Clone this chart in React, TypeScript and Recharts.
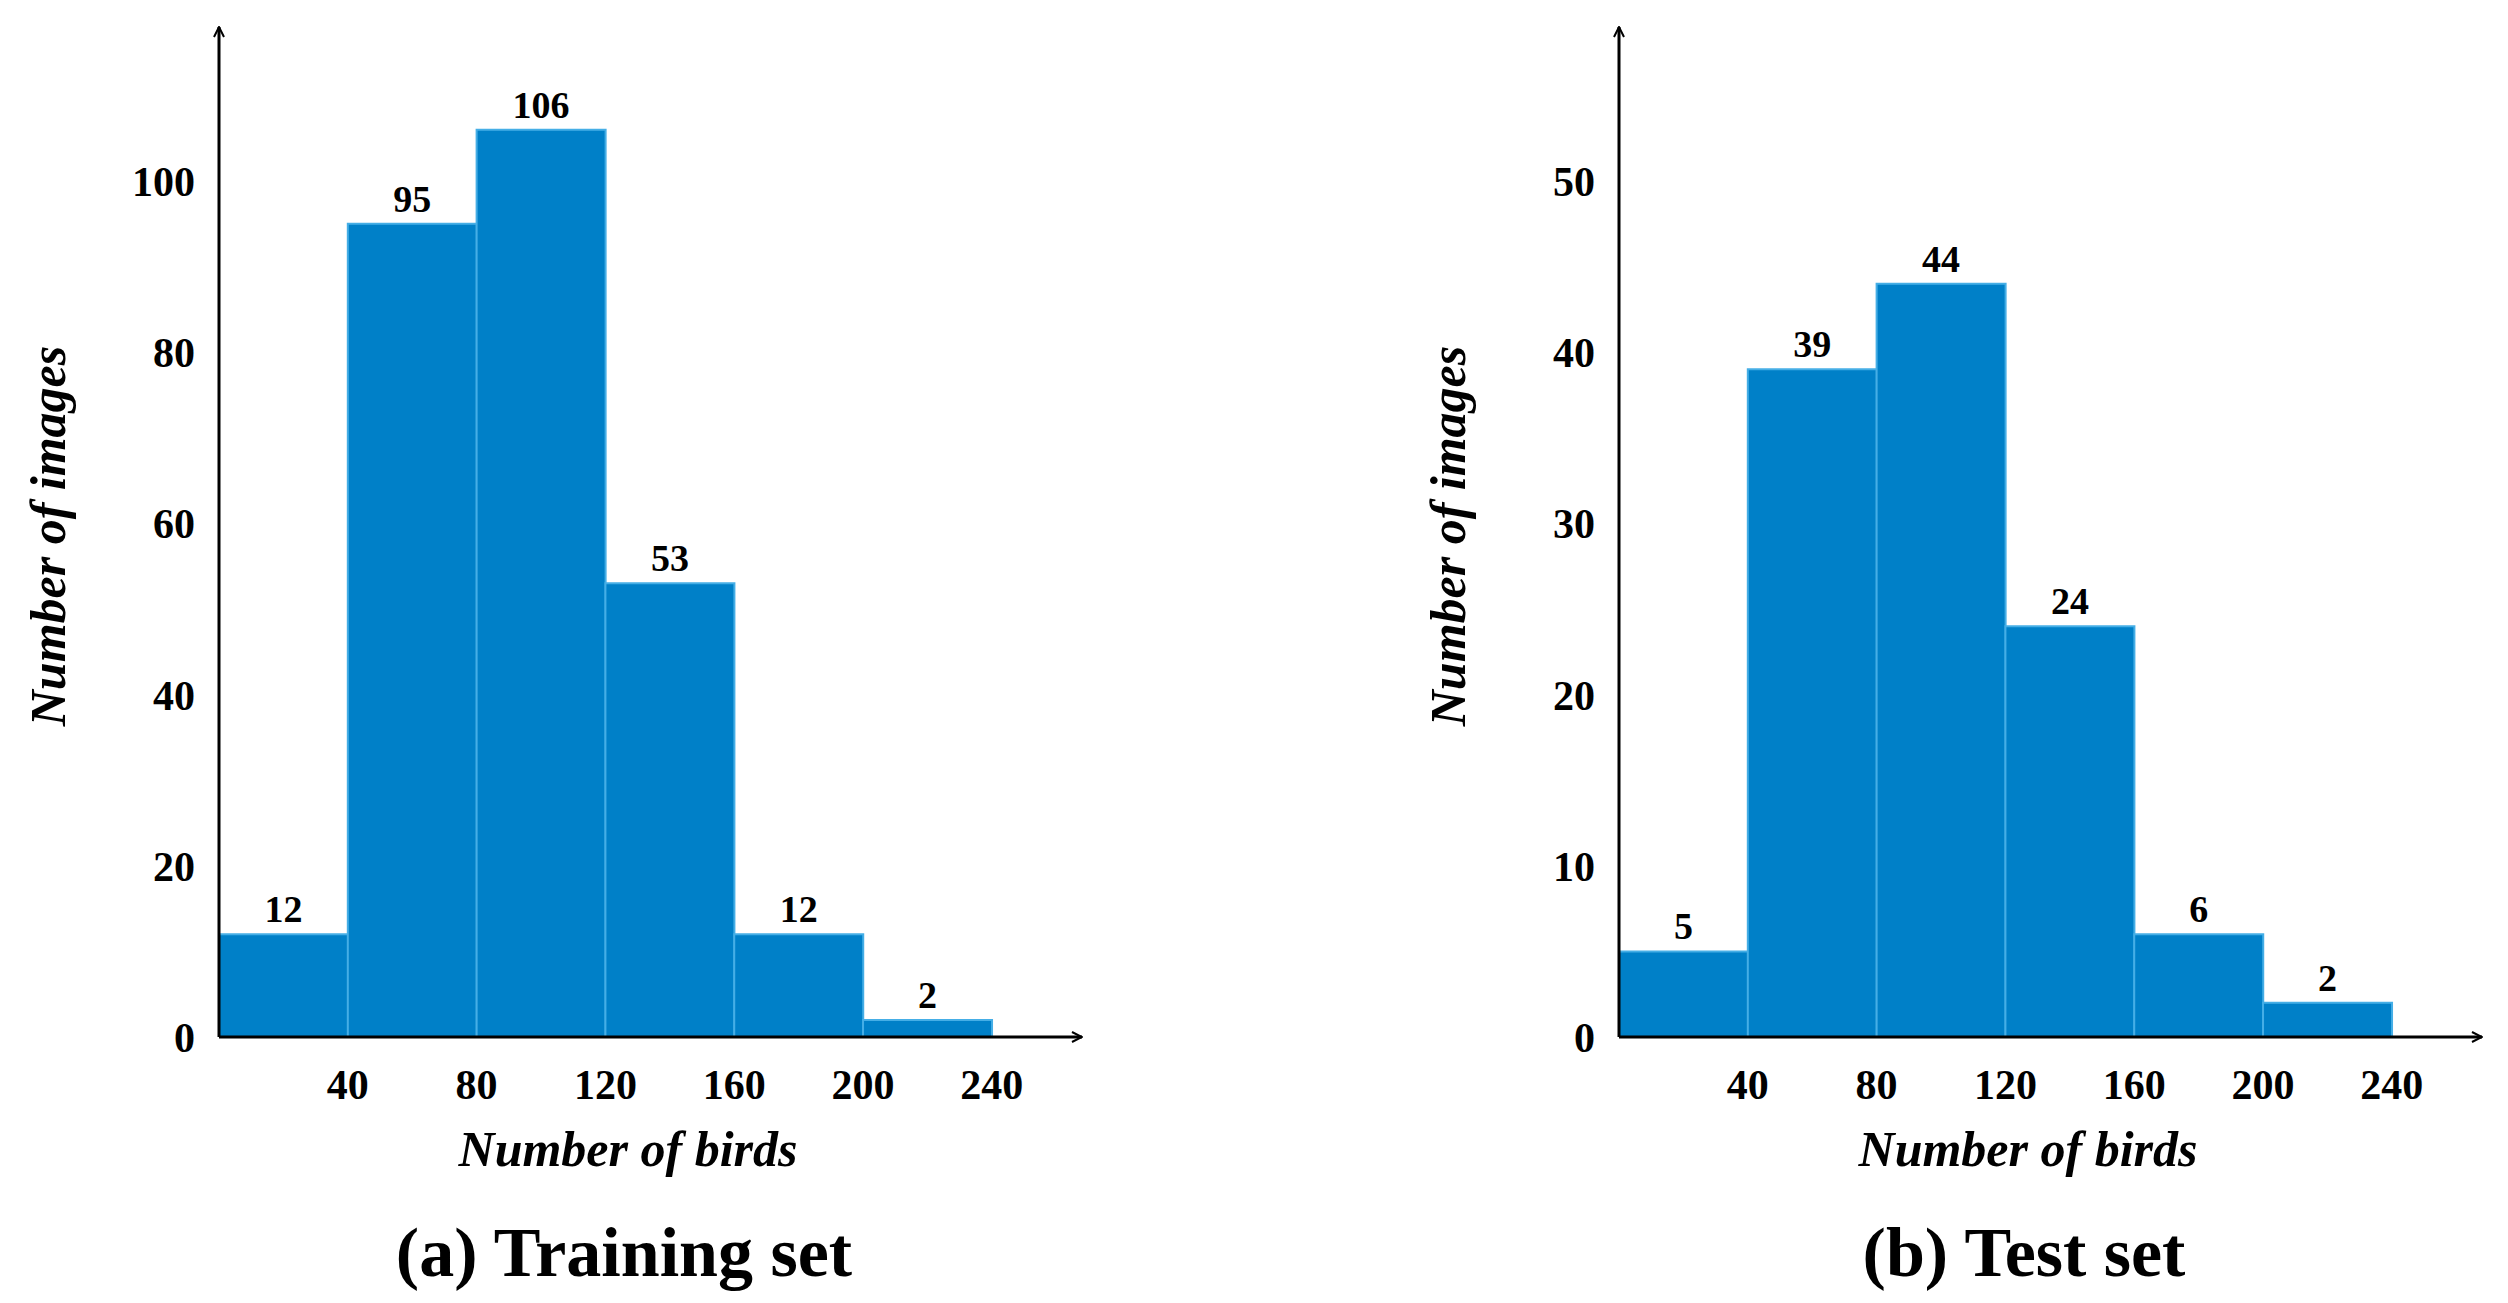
import { BarChart, Bar, XAxis, YAxis, LabelList } from "recharts"

const BIN_START = [0, 40, 80, 120, 160, 200]
const BIN_WIDTH = 40
const X_TICKS = [40, 80, 120, 160, 200, 240]
const TRAIN_COUNTS = [12, 95, 106, 53, 12, 2]
const TEST_COUNTS = [5, 39, 44, 24, 6, 2]
const TRAIN_Y_TICKS = [0, 20, 40, 60, 80, 100]
const TEST_Y_TICKS = [0, 10, 20, 30, 40, 50]

const FONT = "'Liberation Serif', 'Times New Roman', serif"
const BAR_FILL = "#0080c8"
const BAR_EDGE = "#45aee6"

// layout of one panel (local coords)
const W = 1254
const H = 1303
const AXIS_X = 219
const PLOT_TOP = 27
const PLOT_BOTTOM = 1037
const PLOT_RIGHT = 1082
const X_MAX = 268

interface PanelProps {
  counts: number[]
  yTicks: number[]
  yMax: number
  title: string
  left: number
}

function Panel({ counts, yTicks, yMax, title, left }: PanelProps) {
  const data = BIN_START.map((start, i) => ({ x: start + BIN_WIDTH / 2, count: counts[i] }))
  const xAxisH = 140
  return (
    <div style={{ position: "absolute", left, top: 0, width: W, height: H, fontFamily: FONT }}>
      <BarChart
        width={W}
        height={H}
        data={data}
        barCategoryGap={0}
        margin={{ top: PLOT_TOP, right: W - PLOT_RIGHT, bottom: H - PLOT_BOTTOM - xAxisH, left: 0 }}
      >
        <XAxis
          dataKey="x"
          type="number"
          domain={[0, X_MAX]}
          ticks={X_TICKS}
          interval={0}
          allowDataOverflow
          height={xAxisH}
          tickLine={false}
          tickSize={0}
          tickMargin={32}
          axisLine={{ stroke: "#000", strokeWidth: 3, markerEnd: "url(#arrowHead)" } as any}
          tick={{ fill: "#000", fontSize: 42, fontWeight: "bold", fontFamily: FONT }}
        />
        <YAxis
          type="number"
          domain={[0, yMax]}
          ticks={yTicks}
          interval={0}
          allowDataOverflow
          width={AXIS_X}
          tickLine={false}
          tickSize={0}
          tickMargin={24}
          axisLine={{ stroke: "#000", strokeWidth: 3, markerStart: "url(#arrowHeadRev)" } as any}
          tick={{ fill: "#000", fontSize: 42, fontWeight: "bold", fontFamily: FONT }}
        />
        <Bar dataKey="count" fill={BAR_FILL} stroke={BAR_EDGE} strokeWidth={2} isAnimationActive={false}>
          <LabelList
            dataKey="count"
            position="top"
            offset={12}
            style={{ fill: "#000", fontSize: 38, fontWeight: "bold", fontFamily: FONT }}
          />
        </Bar>
      </BarChart>
      <div
        style={{
          position: "absolute", left: 48, top: 536, transform: "translate(-50%, -50%) rotate(-90deg)",
          whiteSpace: "nowrap", fontSize: 50, fontWeight: "bold", fontStyle: "italic", lineHeight: 1,
        }}
      >
        Number of images
      </div>
      <div
        style={{
          position: "absolute", left: 628, top: 1149, transform: "translate(-50%, -50%)",
          whiteSpace: "nowrap", fontSize: 50, fontWeight: "bold", fontStyle: "italic", lineHeight: 1,
        }}
      >
        Number of birds
      </div>
      <div
        style={{
          position: "absolute", left: 624, top: 1253, transform: "translate(-50%, -50%)",
          whiteSpace: "nowrap", fontSize: 70, fontWeight: "bold", lineHeight: 1,
        }}
      >
        {title}
      </div>
    </div>
  )
}

export default function App() {
  return (
    <div style={{ position: "absolute", left: 0, top: 0, width: 2508, height: 1303, background: "#fff" }}>
      <svg width={0} height={0} style={{ position: "absolute" }}>
        <defs>
          <marker id="arrowHead" viewBox="0 0 12 12" refX="11" refY="6" markerWidth="12" markerHeight="12"
            markerUnits="userSpaceOnUse" orient="auto">
            <path d="M1,1 L11,6 L1,11" fill="none" stroke="#000" strokeWidth={2} />
          </marker>
          <marker id="arrowHeadRev" viewBox="0 0 12 12" refX="11" refY="6" markerWidth="12" markerHeight="12"
            markerUnits="userSpaceOnUse" orient="auto-start-reverse">
            <path d="M1,1 L11,6 L1,11" fill="none" stroke="#000" strokeWidth={2} />
          </marker>
        </defs>
      </svg>
      <Panel counts={TRAIN_COUNTS} yTicks={TRAIN_Y_TICKS} yMax={118} title="(a) Training set" left={0} />
      <Panel counts={TEST_COUNTS} yTicks={TEST_Y_TICKS} yMax={59} title="(b) Test set" left={1400} />
    </div>
  )
}
